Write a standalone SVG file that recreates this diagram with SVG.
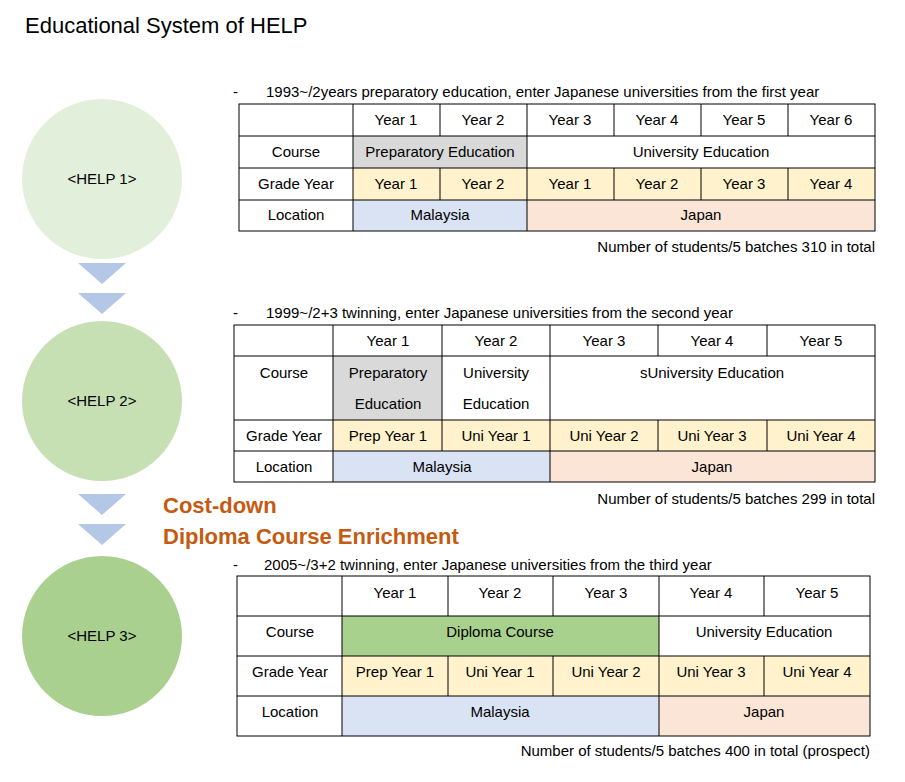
<svg xmlns="http://www.w3.org/2000/svg" width="905" height="782" viewBox="0 0 905 782">
<style>
text{font-family:"Liberation Sans",Arial,sans-serif;font-size:15px;fill:#000}
.c{text-anchor:middle}
.r{text-anchor:end}
.g{stroke:#000;stroke-width:1}
.tri{fill:#b4c7e7}
.or{font-size:22px;font-weight:bold;fill:#c55a11}
</style>
<rect width="905" height="782" fill="#fff"/>
<text x="25" y="33" style="font-size:22px">Educational System of HELP</text>
<g id="help1"><circle cx="102" cy="179" r="80" fill="#e2efda"/><text x="102" y="184" class="c">&lt;HELP 1&gt;</text></g>
<g id="help2"><circle cx="102" cy="401" r="80" fill="#c6e0b4"/><text x="102" y="406" class="c">&lt;HELP 2&gt;</text></g>
<g id="help3"><circle cx="102" cy="636" r="80" fill="#a9d08e"/><text x="102" y="641" class="c">&lt;HELP 3&gt;</text></g>
<g id="connectors">
<polygon class="tri" points="78,263 126,263 102,284"/>
<polygon class="tri" points="78,293 126,293 102,314"/>
<polygon class="tri" points="78,494 126,494 102,515"/>
<polygon class="tri" points="78,524 126,524 102,545"/>
</g>
<text x="163" y="513" class="or">Cost-down</text>
<text x="163" y="544" class="or">Diploma Course Enrichment</text>

<g id="table1">
<text x="233" y="97">-</text><text x="266" y="97">1993~/2years preparatory education, enter Japanese universities from the first year</text>
<rect x="353" y="136" width="174" height="32" fill="#d9d9d9"/>
<rect x="353" y="168" width="522" height="32" fill="#fff2cc"/>
<rect x="353" y="200" width="174" height="31" fill="#dae3f3"/>
<rect x="527" y="200" width="348" height="31" fill="#fbe5d6"/>
<g class="g" fill="none">
<rect x="239" y="104" width="636" height="127"/>
<path d="M239 136H875M239 168H875M239 200H875M353 104V231M527 104V231M440 104V136M440 168V200M614 104V136M614 168V200M701 104V136M701 168V200M788 104V136M788 168V200"/>
</g>
<text x="396" y="125" class="c">Year 1</text><text x="483" y="125" class="c">Year 2</text><text x="570" y="125" class="c">Year 3</text><text x="657" y="125" class="c">Year 4</text><text x="744" y="125" class="c">Year 5</text><text x="831" y="125" class="c">Year 6</text>
<text x="296" y="157" class="c">Course</text><text x="440" y="157" class="c">Preparatory Education</text><text x="701" y="157" class="c">University Education</text>
<text x="296" y="189" class="c">Grade Year</text><text x="396" y="189" class="c">Year 1</text><text x="483" y="189" class="c">Year 2</text><text x="570" y="189" class="c">Year 1</text><text x="657" y="189" class="c">Year 2</text><text x="744" y="189" class="c">Year 3</text><text x="831" y="189" class="c">Year 4</text>
<text x="296" y="220" class="c">Location</text><text x="440" y="220" class="c">Malaysia</text><text x="701" y="220" class="c">Japan</text>
<text x="875" y="252" class="r">Number of students/5 batches 310 in total</text>
</g>

<g id="table2">
<text x="233" y="318">-</text><text x="266" y="318">1999~/2+3 twinning, enter Japanese universities from the second year</text>
<rect x="333" y="356" width="109" height="64" fill="#d9d9d9"/>
<rect x="333" y="420" width="542" height="31" fill="#fff2cc"/>
<rect x="333" y="451" width="217" height="31" fill="#dae3f3"/>
<rect x="550" y="451" width="325" height="31" fill="#fbe5d6"/>
<g class="g" fill="none">
<rect x="234" y="325" width="641" height="157"/>
<path d="M234 356H875M234 420H875M234 451H875M333 325V482M550 325V482M442 325V451M658 325V356M658 420V451M767 325V356M767 420V451"/>
</g>
<text x="388" y="346" class="c">Year 1</text><text x="496" y="346" class="c">Year 2</text><text x="604" y="346" class="c">Year 3</text><text x="712" y="346" class="c">Year 4</text><text x="821" y="346" class="c">Year 5</text>
<text x="284" y="378" class="c">Course</text><text x="388" y="378" class="c">Preparatory</text><text x="388" y="409" class="c">Education</text><text x="496" y="378" class="c">University</text><text x="496" y="409" class="c">Education</text><text x="712" y="378" class="c">sUniversity Education</text>
<text x="284" y="441" class="c">Grade Year</text><text x="388" y="441" class="c">Prep Year 1</text><text x="496" y="441" class="c">Uni Year 1</text><text x="604" y="441" class="c">Uni Year 2</text><text x="712" y="441" class="c">Uni Year 3</text><text x="821" y="441" class="c">Uni Year 4</text>
<text x="284" y="472" class="c">Location</text><text x="442" y="472" class="c">Malaysia</text><text x="712" y="472" class="c">Japan</text>
<text x="875" y="504" class="r">Number of students/5 batches 299 in total</text>
</g>

<g id="table3">
<text x="233" y="570">-</text><text x="264" y="570">2005~/3+2 twinning, enter Japanese universities from the third year</text>
<rect x="342" y="616" width="317" height="40" fill="#a9d18e"/>
<rect x="342" y="656" width="528" height="40" fill="#fff2cc"/>
<rect x="342" y="696" width="317" height="40" fill="#dae3f3"/>
<rect x="659" y="696" width="211" height="40" fill="#fbe5d6"/>
<g class="g" fill="none">
<rect x="237" y="576" width="633" height="160"/>
<path d="M237 616H870M237 656H870M237 696H870M342 576V736M659 576V736M448 576V616M448 656V696M553 576V616M553 656V696M764 576V616M764 656V696"/>
</g>
<text x="395" y="598" class="c">Year 1</text><text x="500" y="598" class="c">Year 2</text><text x="606" y="598" class="c">Year 3</text><text x="711" y="598" class="c">Year 4</text><text x="817" y="598" class="c">Year 5</text>
<text x="290" y="637" class="c">Course</text><text x="500" y="637" class="c">Diploma Course</text><text x="764" y="637" class="c">University Education</text>
<text x="290" y="677" class="c">Grade Year</text><text x="395" y="677" class="c">Prep Year 1</text><text x="500" y="677" class="c">Uni Year 1</text><text x="606" y="677" class="c">Uni Year 2</text><text x="711" y="677" class="c">Uni Year 3</text><text x="817" y="677" class="c">Uni Year 4</text>
<text x="290" y="717" class="c">Location</text><text x="500" y="717" class="c">Malaysia</text><text x="764" y="717" class="c">Japan</text>
<text x="870" y="756" class="r">Number of students/5 batches 400 in total (prospect)</text>
</g>
</svg>
